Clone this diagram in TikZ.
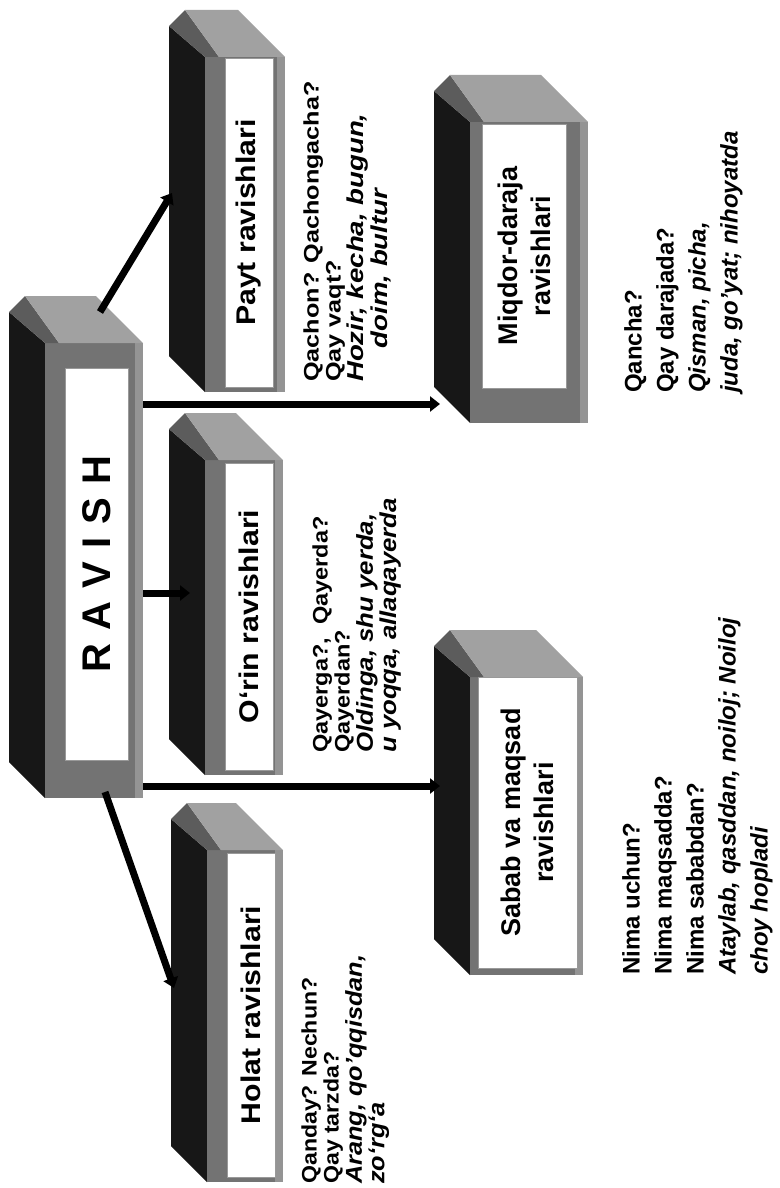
\documentclass[tikz,border=0pt]{standalone}
\usepackage{fontspec}
\setmainfont{Liberation Sans}
\usepackage{graphicx}
\usetikzlibrary{arrows.meta}

\definecolor{darkg}{gray}{0.09}
\definecolor{frontg}{gray}{0.45}
\definecolor{bevelg}{gray}{0.36}
\definecolor{topg}{gray}{0.63}
\definecolor{edgeg}{gray}{0.58}

\tikzset{
  darkside/.style={fill=darkg},
  frontface/.style={fill=frontg},
  bevelface/.style={fill=bevelg},
  topface/.style={fill=topg},
  labelbox/.style={draw=black!40, line width=0.6pt, fill=white, inner sep=0pt,
    rotate=90, align=center, font=\bfseries\fontsize{27}{33}\selectfont},
  conn/.style={line width=7pt, draw=black, -{Triangle[length=10pt,width=15pt]}},
  notetext/.style={anchor=north west, rotate=90, inner sep=0pt, align=left},
  smallnote/.style={notetext, font=\bfseries\fontsize{21}{22}\selectfont},
  bignote/.style={notetext, font=\bfseries\fontsize{24}{32}\selectfont},
}

% FL FR FT FB
\newcommand{\drawblock}[4]{%
  \fill[darkside] ({#1-36},{#3-31}) -- (#1,#3) -- (#1,#4) -- ({#1-36},{#4-36}) -- cycle;
  \fill[frontface] (#1,#3) rectangle (#2,#4);
  \fill[edgeg] ({#2-8},#3) rectangle (#2,#4);
  \fill[bevelface] ({#1-36},{#3-31}) -- ({#1-20},{#3-47}) -- ({#1+14},#3) -- (#1,#3) -- cycle;
  \fill[topface] ({#1-20},{#3-47}) -- ({#2-47},{#3-47}) -- (#2,#3) -- ({#1+14},#3) -- cycle;
}

\newcommand{\itl}[1]{{\itshape\fontsize{23}{22}\selectfont #1}}

\begin{document}
\begin{tikzpicture}[x=1pt,y=-1pt]
\useasboundingbox[fill=white] (0,0) rectangle (779,1188);

% blocks
\drawblock{45}{143}{343}{798}
\drawblock{205}{285}{57}{392}
\drawblock{205}{283}{460}{775}
\drawblock{207}{283}{850}{1182}
\drawblock{470}{588}{122}{423}
\drawblock{470}{583}{677}{975}

% labels
\node[labelbox, minimum width=392pt, minimum height=63pt,
  font=\bfseries\fontsize{40}{40}\selectfont] (ravish) at (96.5,564) {R\,\,A\,\,V\,\,I\,\,S\,\,H};
\node[labelbox, minimum width=329pt, minimum height=48pt] (payt) at (249,222.5)
  {\scalebox{1.12}[1]{Payt ravishlari}};
\node[labelbox, minimum width=307pt, minimum height=48pt] (orin) at (249,616.5)
  {\scalebox{1.12}[1]{O‘rin ravishlari}};
\node[labelbox, minimum width=324pt, minimum height=48pt] (holat) at (251,1015)
  {\scalebox{1.12}[1]{Holat ravishlari}};
\node[labelbox, minimum width=264pt, minimum height=84pt] (miqdor) at (524,256)
  {Miqdor-daraja\\ravishlari};
\node[labelbox, minimum width=291pt, minimum height=99pt] (sabab) at (527.5,822.5)
  {Sabab va maqsad\\ravishlari};

% connector end points
\coordinate (rtop) at (100,312);
\coordinate (rbot) at (105,792);
\coordinate (rm) at (143,404);
\coordinate (ro) at (143,593);
\coordinate (rs) at (143,786);
\coordinate (paytin) at (172,193);
\coordinate (miqdorin) at (440,404);
\coordinate (orinin) at (190,593);
\coordinate (sababin) at (440,786);
\coordinate (holatin) at (174,988);

\draw[conn] (rtop) -- (paytin);
\draw[conn] (rm) -- (miqdorin);
\draw[conn] (ro) -- (orinin);
\draw[conn] (rs) -- (sababin);
\draw[conn] (rbot) -- (holatin);

% notes
\node[smallnote] (payttxt) at (303,382) {\scalebox{1.2}[1]{\begin{tabular}{@{}l@{}}
Qachon? Qachongacha?\\
Qay vaqt?\\
\itl{Hozir, kecha, bugun,}\\
\itl{\hspace{28pt}doim, bultur}
\end{tabular}}};

\node[smallnote] (orintxt) at (312,753) {\scalebox{1.12}[1]{\begin{tabular}{@{}l@{}}
Qayerga?,\ \ Qayerda?\\
Qayerdan?\\
\itl{Oldinga, shu yerda,}\\
\itl{u yoqqa, allaqayerda}
\end{tabular}}};

\node[smallnote] (holattxt) at (301,1184) {\scalebox{1.1}[1]{\begin{tabular}{@{}l@{}}
Qanday? Nechun?\\
Qay tarzda?\\
\itl{Arang, qo’qqisdan,}\\
\itl{zo‘rg‘a}
\end{tabular}}};

\node[bignote] (miqdortxt) at (619,393) {\begin{tabular}{@{}l@{}}
Qancha?\\
Qay darajada?\\
{\itshape Qisman, picha,}\\
{\itshape juda, go’yat; nihoyatda}
\end{tabular}};

\node[bignote] (sababtxt) at (617,975) {\begin{tabular}{@{}l@{}}
Nima uchun?\\
Nima maqsadda?\\
Nima sababdan?\\
{\itshape Ataylab, qasddan, noiloj; Noiloj}\\
{\itshape choy hopladi}
\end{tabular}};

\end{tikzpicture}
\end{document}
